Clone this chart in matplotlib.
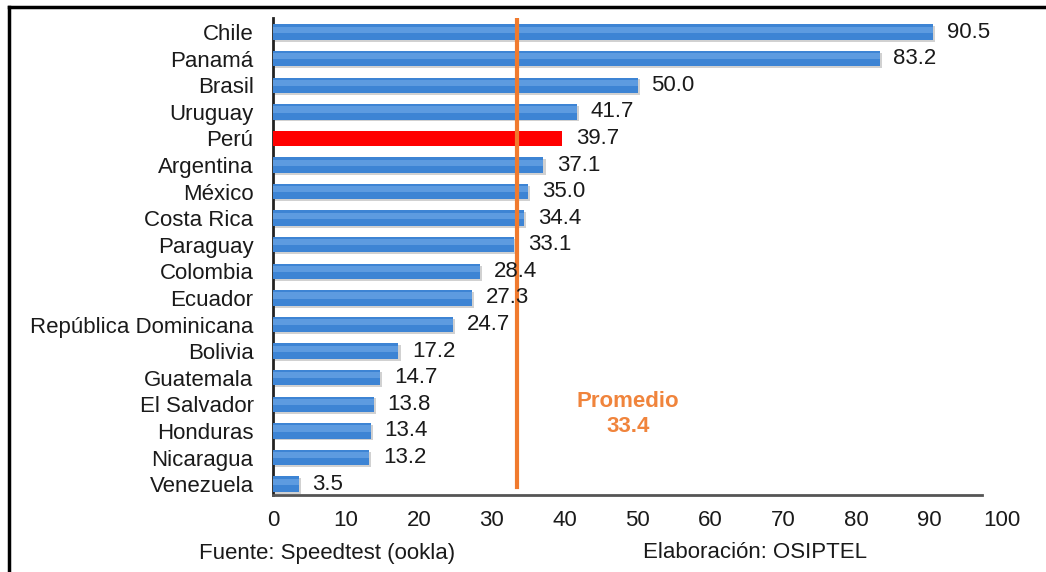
import numpy as np
import matplotlib
matplotlib.use('Agg')
import matplotlib.pyplot as plt

plt.rcParams['font.family'] = ['Liberation Sans', 'DejaVu Sans']

# velocidad promedio de descarga por pais (Mbps)
paises = ['Chile', 'Panamá', 'Brasil', 'Uruguay', 'Perú', 'Argentina', 'México',
          'Costa Rica', 'Paraguay', 'Colombia', 'Ecuador', 'República Dominicana',
          'Bolivia', 'Guatemala', 'El Salvador', 'Honduras', 'Nicaragua', 'Venezuela']
valores = [90.5, 83.2, 50.0, 41.7, 39.7, 37.1, 35.0, 34.4, 33.1, 28.4, 27.3, 24.7,
           17.2, 14.7, 13.8, 13.4, 13.2, 3.5]
promedio = 33.4
destacado = 'Perú'
ticks_x = [0, 10, 20, 30, 40, 50, 60, 70, 80, 90, 100]

fig = plt.figure(figsize=(10.46, 5.72), dpi=100)
ax = fig.add_axes([0.261, 0.1346, 0.697, 0.834])

y = np.arange(len(paises))
alto = 0.58
for i, (p, v) in enumerate(zip(paises, valores)):
    if p == destacado:
        ax.barh(i, v, height=alto, color='#ff0000', zorder=3)
    else:
        # sombra + barra + brillo
        ax.barh(i + 0.07, v + 0.3, height=alto, color='#8c8c8c', alpha=0.4, zorder=2)
        ax.barh(i, v, height=alto, color='#3d84d4', zorder=3)
        ax.barh(i - 0.09, v, height=alto * 0.4, color='#5d9be0', zorder=4)
    ax.text(v + 1.9, i, '%.1f' % v, va='center', ha='left', fontsize=16,
            color='#1a1a1a', zorder=5)

ax.axvline(promedio, ymin=0.017, ymax=1.0, color='#f07a2e', lw=3, zorder=4)
ax.text(48.7, 14.35, 'Promedio\n%.1f' % promedio, ha='center', va='center',
        fontsize=16, fontweight='bold', color='#f0843c', linespacing=1.25)

ax.set_xlim(0, 100)
ax.set_ylim(17.41, -0.53)
ax.set_yticks(y)
ax.set_yticklabels(paises, fontsize=16, color='#1a1a1a')
ax.set_xticks(ticks_x)
ax.set_xticklabels([str(t) for t in ticks_x], fontsize=16, color='#1a1a1a')
ax.tick_params(length=0)
ax.tick_params(axis='x', pad=11)
ax.tick_params(axis='y', pad=14)

for s in ['top', 'right']:
    ax.spines[s].set_visible(False)
ax.spines['left'].set_color('#222222')
ax.spines['left'].set_linewidth(2)
ax.spines['bottom'].set_color('#555555')
ax.spines['bottom'].set_linewidth(2)
ax.spines['bottom'].set_bounds(0, 97.3)

fig.text(327 / 1046, 1 - 553 / 572, 'Fuente: Speedtest (ookla)', ha='center',
         va='center', fontsize=16, color='#1a1a1a')
fig.text(755 / 1046, 1 - 553 / 572, 'Elaboración: OSIPTEL', ha='center',
         va='center', fontsize=16, color='#1a1a1a')

# marco
fig.add_artist(plt.Line2D([9 / 1046, 9 / 1046], [0, 1 - 7 / 572], color='black',
                          lw=2.5, transform=fig.transFigure))
fig.add_artist(plt.Line2D([9 / 1046, 1], [1 - 7 / 572, 1 - 7 / 572], color='black',
                          lw=2.5, transform=fig.transFigure))

fig.savefig('out.png', dpi=100)
